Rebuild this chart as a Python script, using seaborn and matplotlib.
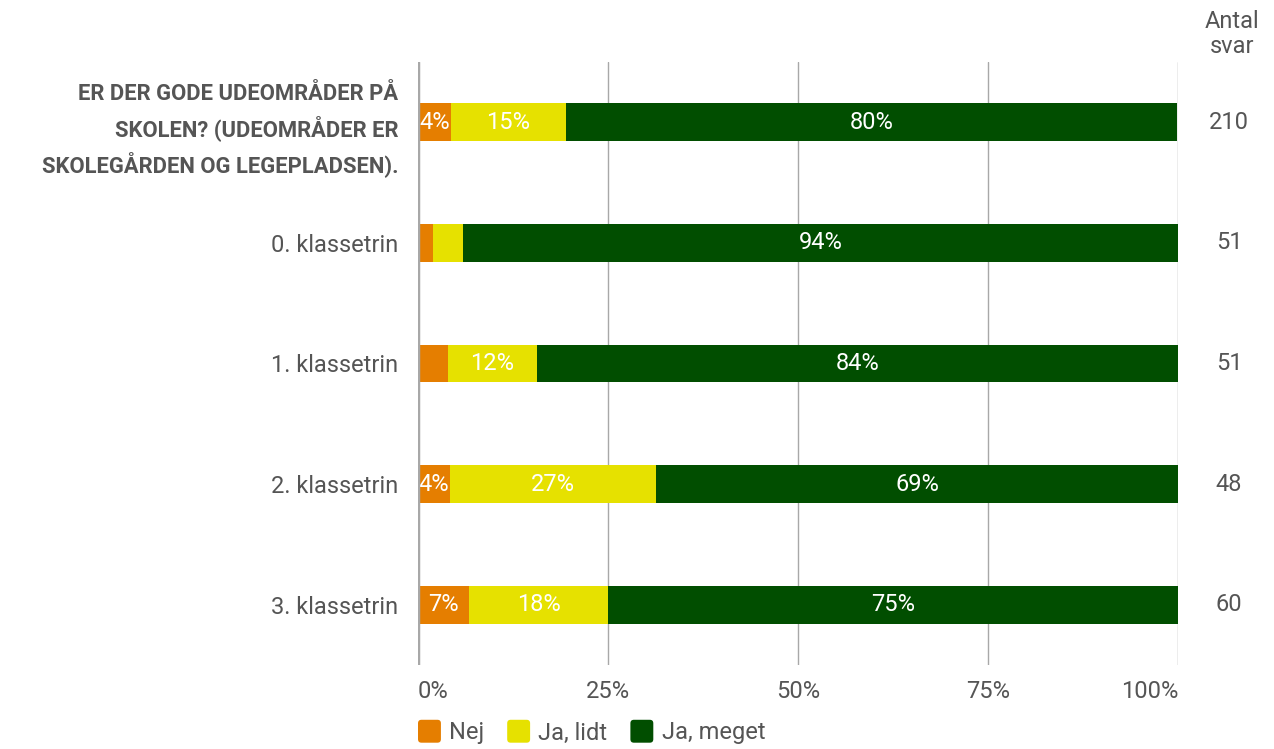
import matplotlib
matplotlib.use("Agg")
import matplotlib.pyplot as plt
from matplotlib.patches import FancyBboxPatch, Patch
from matplotlib.legend_handler import HandlerPatch
from matplotlib.transforms import blended_transform_factory
import pandas as pd
import seaborn as sns

# Data (percent of answers per row)
CATEGORIES = [
    "ER DER GODE UDEOMRÅDER PÅ\nSKOLEN? (UDEOMRÅDER ER\nSKOLEGÅRDEN OG LEGEPLADSEN).",
    "0. klassetrin",
    "1. klassetrin",
    "2. klassetrin",
    "3. klassetrin",
]
NEJ = [4.3, 2.0, 3.9, 4.2, 6.7]
JA_LIDT = [15.2, 3.9, 11.8, 27.1, 18.3]
JA_MEGET = [80.4, 94.1, 84.3, 68.7, 75.0]
ANTAL = [210, 51, 51, 48, 60]
SERIES = ["Nej", "Ja, lidt", "Ja, meget"]
COLORS = ["#E57E00", "#E6E100", "#014E00"]
TICKS = [0, 25, 50, 75, 100]

TEXT = "#555555"
GRID = "#A8A8A8"
FS = 17

sns.set_theme(style="white")
plt.rcParams["font.family"] = ["Roboto", "DejaVu Sans"]

df = pd.DataFrame({"cat": CATEGORIES, "Nej": NEJ, "Ja, lidt": JA_LIDT, "Ja, meget": JA_MEGET})
cum = df[SERIES].cumsum(axis=1)

fig = plt.figure(figsize=(12.74, 7.49), dpi=100)
ax = fig.add_axes([418 / 1274, 1 - 665 / 749, 760 / 1274, 603 / 749])

# draw from the back: full stack first, then shorter cumulative parts on top
for name, color in zip(SERIES[::-1], COLORS[::-1]):
    sns.barplot(x=cum[name], y=df["cat"], orient="h", color=color,
                width=0.315, saturation=1, ax=ax, linewidth=0)

# segment labels (small segments stay unlabelled)
for i in range(len(df)):
    left = 0
    for name in SERIES:
        v = df.loc[i, name]
        if v >= 4.0:
            ax.text(left + v / 2, i, f"{v:.0f}%", ha="center", va="center",
                    color="white", fontsize=FS)
        left += v

ax.set_xlim(0, 100)
ax.set_ylim(4.5, -0.5)
ax.set_xticks(TICKS)
ax.set_xticklabels([f"{t}%" for t in TICKS], color=TEXT, fontsize=FS)
tl = ax.get_xticklabels()
tl[0].set_ha("left")
tl[-1].set_ha("right")
ax.tick_params(axis="x", length=0, pad=11)
ax.tick_params(axis="y", length=0, pad=14)
ax.set_xlabel("")
ax.set_ylabel("")

for t in TICKS[1:]:
    ax.axvline(t, color=GRID, lw=1, zorder=0)
ax.axvline(0, color=GRID, lw=2.5, zorder=3)
for s in ax.spines.values():
    s.set_visible(False)

for i, lab in enumerate(ax.get_yticklabels()):
    lab.set_color(TEXT)
    lab.set_fontsize(FS)
    if i == 0:
        # question row: bold caps, slightly smaller to fit like the condensed original
        lab.set_fontweight("bold")
        lab.set_fontsize(15.8)
        lab.set_linespacing(1.5)

# answer counts on the right
tr = blended_transform_factory(fig.transFigure, ax.transData)
for i, n in enumerate(ANTAL):
    ax.text(1229 / 1274, i, str(n), transform=tr, ha="center", va="center",
            color=TEXT, fontsize=FS)
fig.text(1232 / 1274, 1 - 34 / 749, "Antal\nsvar", ha="center", va="center",
         color=TEXT, fontsize=FS, linespacing=1.15)


class RoundHandler(HandlerPatch):
    def create_artists(self, legend, orig, xd, yd, w, h, fontsize, trans):
        size = 16.5
        p = FancyBboxPatch((xd, yd + h / 2 - size / 2), size, size,
                           boxstyle="round,pad=0,rounding_size=2.5",
                           facecolor=orig.get_facecolor(), edgecolor="none",
                           transform=trans)
        return [p]


handles = [Patch(facecolor=c, label=s) for s, c in zip(SERIES, COLORS)]
fig.legend(handles=handles, loc="center left", bbox_to_anchor=(418 / 1274, 1 - 733 / 749),
           ncol=3, frameon=False, fontsize=FS, labelcolor=TEXT, borderpad=0,
           borderaxespad=0, handler_map={Patch: RoundHandler()},
           handlelength=0.97, handletextpad=0.35, columnspacing=0.97)

fig.savefig("out.png", dpi=100)
